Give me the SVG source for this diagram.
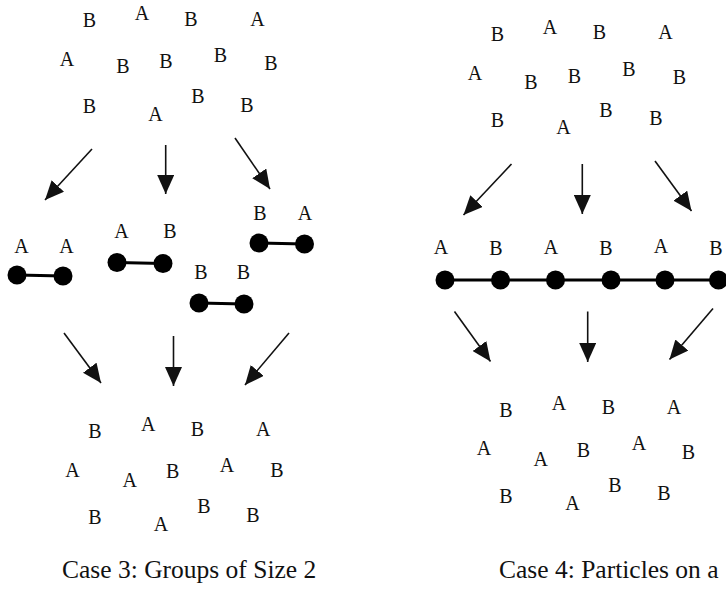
<svg xmlns="http://www.w3.org/2000/svg" width="726" height="596" viewBox="0 0 726 596">
  <style>
    .lbl { font-family: "Liberation Serif", "Times New Roman", serif; font-size: 20px; fill: #111; text-anchor: middle; }
    .cap { font-family: "Liberation Serif", "Times New Roman", serif; font-size: 25.5px; fill: #111; }
    .arrow { stroke: #111; stroke-width: 1.6; fill: none; marker-end: url(#ah); }
    .bond { stroke: #000; stroke-width: 3; }
    .bead { fill: #000; }
  </style>
  <defs>
    <marker id="ah" markerWidth="19" markerHeight="17" refX="19" refY="8.5" orient="auto" markerUnits="userSpaceOnUse">
      <path d="M0,0 L19,8.5 L0,17 z" fill="#111"/>
    </marker>
  </defs>
  <rect width="726" height="596" fill="#fff"/>

  <!-- Case 3: initial mixture -->
  <g id="case3-initial" class="lbl">
    <text x="89.5" y="27">B</text><text x="142" y="20">A</text><text x="191" y="26">B</text><text x="257.5" y="26">A</text>
    <text x="67" y="66">A</text><text x="123" y="73">B</text><text x="166" y="68">B</text><text x="220.5" y="62">B</text><text x="271" y="70">B</text>
    <text x="89.5" y="113">B</text><text x="155.5" y="121">A</text><text x="198" y="103">B</text><text x="247" y="112">B</text>
  </g>

  <!-- Case 3: pairs -->
  <g id="pair-AA">
    <text class="lbl" x="21.5" y="253">A</text><text class="lbl" x="66.5" y="253">A</text>
    <line class="bond" x1="17" y1="275" x2="63" y2="276"/>
    <circle class="bead" cx="17" cy="275" r="9.5"/><circle class="bead" cx="63" cy="276" r="9.5"/>
  </g>
  <g id="pair-AB">
    <text class="lbl" x="121.5" y="238">A</text><text class="lbl" x="170" y="238">B</text>
    <line class="bond" x1="117" y1="262.5" x2="163" y2="263.5"/>
    <circle class="bead" cx="117" cy="262.5" r="9.5"/><circle class="bead" cx="163" cy="263.5" r="9.5"/>
  </g>
  <g id="pair-BB">
    <text class="lbl" x="201" y="279">B</text><text class="lbl" x="243.5" y="279">B</text>
    <line class="bond" x1="199" y1="303" x2="244" y2="304"/>
    <circle class="bead" cx="199" cy="303" r="9.5"/><circle class="bead" cx="244" cy="304" r="9.5"/>
  </g>
  <g id="pair-BA">
    <text class="lbl" x="260" y="220">B</text><text class="lbl" x="305" y="220">A</text>
    <line class="bond" x1="259" y1="243" x2="304.5" y2="244"/>
    <circle class="bead" cx="259" cy="243" r="9.5"/><circle class="bead" cx="304.5" cy="244" r="9.5"/>
  </g>

  <!-- Case 3: final mixture -->
  <g id="case3-final" class="lbl">
    <text x="95" y="438">B</text><text x="148.3" y="431">A</text><text x="197.3" y="436">B</text><text x="263.3" y="436">A</text>
    <text x="72.5" y="477">A</text><text x="129.7" y="487">A</text><text x="172.7" y="478">B</text><text x="227" y="472">A</text><text x="277" y="477">B</text>
    <text x="95" y="524">B</text><text x="161" y="531">A</text><text x="204" y="513">B</text><text x="253" y="522">B</text>
  </g>

  <!-- Case 4: initial mixture -->
  <g id="case4-initial" class="lbl">
    <text x="497.5" y="41">B</text><text x="550" y="34">A</text><text x="599.5" y="38.5">B</text><text x="665.5" y="38.5">A</text>
    <text x="475" y="79.5">A</text><text x="531" y="88.5">B</text><text x="574.5" y="82.5">B</text><text x="629" y="75.5">B</text><text x="679.5" y="84">B</text>
    <text x="497.5" y="127">B</text><text x="563.5" y="133.5">A</text><text x="606" y="116.5">B</text><text x="656" y="124.5">B</text>
  </g>

  <!-- Case 4: chain of particles -->
  <g id="chain">
    <text class="lbl" x="441" y="254">A</text><text class="lbl" x="496" y="255">B</text><text class="lbl" x="551" y="254">A</text>
    <text class="lbl" x="606" y="255">B</text><text class="lbl" x="661" y="253">A</text><text class="lbl" x="716" y="255">B</text>
    <line class="bond" x1="445" y1="280" x2="730" y2="280"/>
    <circle class="bead" cx="445" cy="280" r="9.5"/><circle class="bead" cx="500.5" cy="280" r="9.5"/>
    <circle class="bead" cx="555.5" cy="280" r="9.5"/><circle class="bead" cx="611" cy="280" r="9.5"/>
    <circle class="bead" cx="665" cy="280" r="9.5"/><circle class="bead" cx="718.5" cy="280" r="9.5"/>
  </g>

  <!-- Case 4: final mixture -->
  <g id="case4-final" class="lbl">
    <text x="506" y="416.5">B</text><text x="559" y="409.5">A</text><text x="608.3" y="414">B</text><text x="674" y="414">A</text>
    <text x="484" y="455">A</text><text x="540.8" y="465.5">A</text><text x="583.3" y="457">B</text><text x="639" y="450">A</text><text x="688.3" y="459">B</text>
    <text x="506" y="502.5">B</text><text x="572.5" y="509.5">A</text><text x="615" y="492">B</text><text x="664" y="500">B</text>
  </g>

  <!-- Captions -->
  <g id="caption-3"><text class="cap" x="62" y="578">Case 3: Groups of Size 2</text></g>
  <g id="caption-4"><text class="cap" x="499" y="578">Case 4: Particles on a</text></g>

  <!-- Connectors -->
  <g id="connectors">
    <line class="arrow" x1="92" y1="149" x2="45" y2="200"/>
    <line class="arrow" x1="165.7" y1="145" x2="165.7" y2="194"/>
    <line class="arrow" x1="235" y1="138" x2="270" y2="189"/>

    <line class="arrow" x1="64" y1="333" x2="101" y2="383"/>
    <line class="arrow" x1="173.5" y1="336" x2="173.5" y2="386"/>
    <line class="arrow" x1="289" y1="333" x2="245" y2="385"/>

    <line class="arrow" x1="511.5" y1="164" x2="463.5" y2="215"/>
    <line class="arrow" x1="582.3" y1="164" x2="582.3" y2="214"/>
    <line class="arrow" x1="655" y1="161" x2="691.5" y2="211"/>

    <line class="arrow" x1="454.5" y1="311.5" x2="490.5" y2="361.5"/>
    <line class="arrow" x1="587.7" y1="311.5" x2="587.7" y2="362"/>
    <line class="arrow" x1="713" y1="308.5" x2="669.5" y2="359.5"/>
  </g>
</svg>
